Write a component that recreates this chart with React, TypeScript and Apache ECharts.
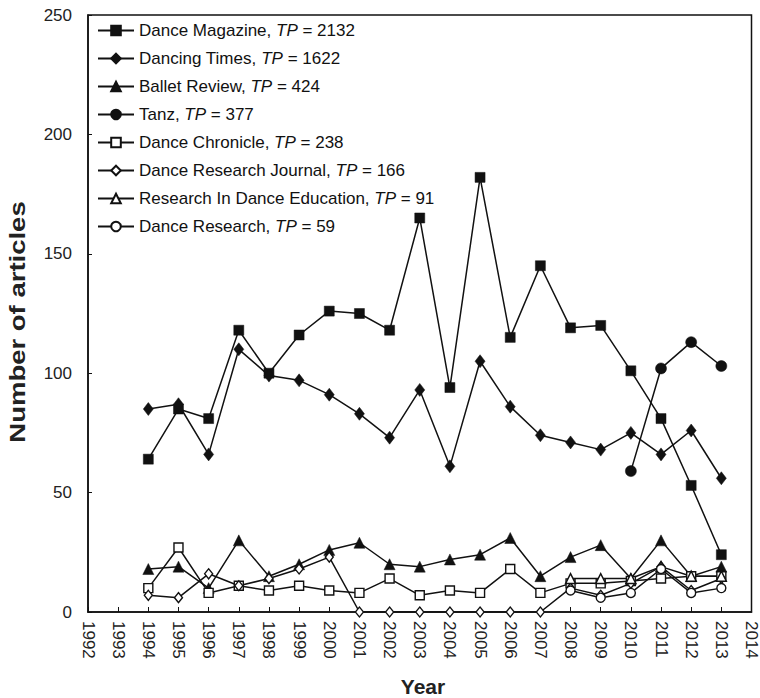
import React, { useEffect, useRef } from "react";
import * as echarts from "echarts";

// ---- data ----
const yearsMain = [1994, 1995, 1996, 1997, 1998, 1999, 2000, 2001, 2002, 2003, 2004, 2005, 2006, 2007, 2008, 2009, 2010, 2011, 2012, 2013];
const yearsTanz = [2010, 2011, 2012, 2013];
const yearsLate = [2008, 2009, 2010, 2011, 2012, 2013];

const danceMagazine = [64, 85, 81, 118, 100, 116, 126, 125, 118, 165, 94, 182, 115, 145, 119, 120, 101, 81, 53, 24];
const dancingTimes = [85, 87, 66, 110, 99, 97, 91, 83, 73, 93, 61, 105, 86, 74, 71, 68, 75, 66, 76, 56];
const balletReview = [18, 19, 10, 30, 15, 20, 26, 29, 20, 19, 22, 24, 31, 15, 23, 28, 14, 30, 15, 19];
const tanz = [59, 102, 113, 103];
const danceChronicle = [10, 27, 8, 11, 9, 11, 9, 8, 14, 7, 9, 8, 18, 8, 12, 12, 13, 14, 15, 15];
const danceResearchJournal = [7, 6, 16, 11, 14, 18, 23, 0, 0, 0, 0, 0, 0, 0, 10, 7, 12, 19, 9, 14];
const researchInDanceEducation = [14, 14, 14, 19, 15, 15];
const danceResearch = [9, 6, 8, 18, 8, 10];

const seriesNames = [
  "Dance Magazine",
  "Dancing Times",
  "Ballet Review",
  "Tanz",
  "Dance Chronicle",
  "Dance Research Journal",
  "Research In Dance Education",
  "Dance Research",
];
const totalPublications = [2132, 1622, 424, 377, 238, 166, 91, 59];

const xMin = 1992;
const xMax = 2014;
const yMin = 0;
const yMax = 250;
const yStep = 50;

const FONT = "'Liberation Sans', Arial, Helvetica, sans-serif";
const INK = "#111111";

function pairs(xs: number[], ys: number[]) {
  return xs.map((x, i) => [x, ys[i]]);
}

function makeSeries(
  name: string,
  xs: number[],
  ys: number[],
  symbol: string,
  size: number | number[],
  filled: boolean
) {
  return {
    name,
    type: "line",
    data: pairs(xs, ys),
    symbol,
    symbolSize: size,
    showSymbol: true,
    lineStyle: { color: INK, width: 1.5 },
    itemStyle: filled
      ? { color: INK, borderColor: INK, borderWidth: 0.5 }
      : { color: "#ffffff", borderColor: INK, borderWidth: 1.4 },
    emphasis: { disabled: true },
    z: filled ? 3 : 4,
  };
}

export default function App() {
  const ref = useRef<HTMLDivElement>(null);

  useEffect(() => {
    if (!ref.current) return;
    const chart = echarts.init(ref.current, undefined, { renderer: "svg" });

    const series = [
      makeSeries(seriesNames[0], yearsMain, danceMagazine, "rect", 10, true),
      makeSeries(seriesNames[1], yearsMain, dancingTimes, "diamond", [10, 13], true),
      makeSeries(seriesNames[2], yearsMain, balletReview, "triangle", 11, true),
      makeSeries(seriesNames[3], yearsTanz, tanz, "circle", 11, true),
      makeSeries(seriesNames[4], yearsMain, danceChronicle, "rect", 9, false),
      makeSeries(seriesNames[5], yearsMain, danceResearchJournal, "diamond", [8, 10], false),
      makeSeries(seriesNames[6], yearsLate, researchInDanceEducation, "triangle", 10, false),
      makeSeries(seriesNames[7], yearsLate, danceResearch, "circle", 9, false),
    ];

    const option: any = {
      animation: false,
      backgroundColor: "#ffffff",
      grid: {
        left: 88,
        right: 8,
        top: 15,
        bottom: 86,
        show: true,
        borderColor: INK,
        borderWidth: 1.5,
        backgroundColor: "transparent",
      },
      legend: {
        orient: "vertical",
        left: 97,
        top: 22,
        padding: 0,
        itemWidth: 36,
        itemHeight: 12,
        itemGap: 11,
        data: seriesNames,
        selectedMode: false,
        formatter: (name: string) => {
          const i = seriesNames.indexOf(name);
          return `{n|${name}, }{i|TP}{n| = ${totalPublications[i]}}`;
        },
        textStyle: {
          color: INK,
          fontFamily: FONT,
          fontSize: 17,
          rich: {
            n: { fontFamily: FONT, fontSize: 17, color: INK, lineHeight: 17 },
            i: { fontFamily: FONT, fontSize: 17, color: INK, fontStyle: "italic", lineHeight: 17 },
          },
        },
      },
      xAxis: {
        type: "value",
        min: xMin,
        max: xMax,
        interval: 1,
        splitLine: { show: false },
        axisLine: { show: true, lineStyle: { color: INK, width: 1.5 } },
        axisTick: { show: true, inside: true, length: 5, lineStyle: { color: INK, width: 1 } },
        axisLabel: {
          rotate: -90,
          margin: 9,
          color: "#222222",
          fontFamily: FONT,
          fontSize: 17,
          formatter: (v: number) => String(v),
        },
      },
      yAxis: {
        type: "value",
        min: yMin,
        max: yMax,
        interval: yStep,
        splitLine: { show: false },
        axisLine: { show: true, lineStyle: { color: INK, width: 1.5 } },
        axisTick: { show: true, inside: true, length: 4, lineStyle: { color: INK, width: 1 } },
        axisLabel: {
          margin: 16,
          color: "#222222",
          fontFamily: FONT,
          fontSize: 17,
        },
      },
      graphic: [
        {
          type: "text",
          x: 17,
          y: 322,
          rotation: Math.PI / 2,
          scaleX: 1.25,
          style: {
            text: "Number of articles",
            fontFamily: FONT,
            fontSize: 22,
            fontWeight: "bold",
            fill: "#222222",
            align: "center",
            verticalAlign: "middle",
            textAlign: "center",
            textVerticalAlign: "middle",
          },
        },
        {
          type: "text",
          x: 423,
          y: 686,
          style: {
            text: "Year",
            fontFamily: FONT,
            fontSize: 21,
            fontWeight: "bold",
            fill: "#222222",
            align: "center",
            verticalAlign: "middle",
            textAlign: "center",
            textVerticalAlign: "middle",
          },
        },
      ],
      series,
    };

    chart.setOption(option);
    return () => {
      chart.dispose();
    };
  }, []);

  return (
    <div
      ref={ref}
      style={{ position: "fixed", left: 0, top: 0, width: 760, height: 698, background: "#fff" }}
    />
  );
}
